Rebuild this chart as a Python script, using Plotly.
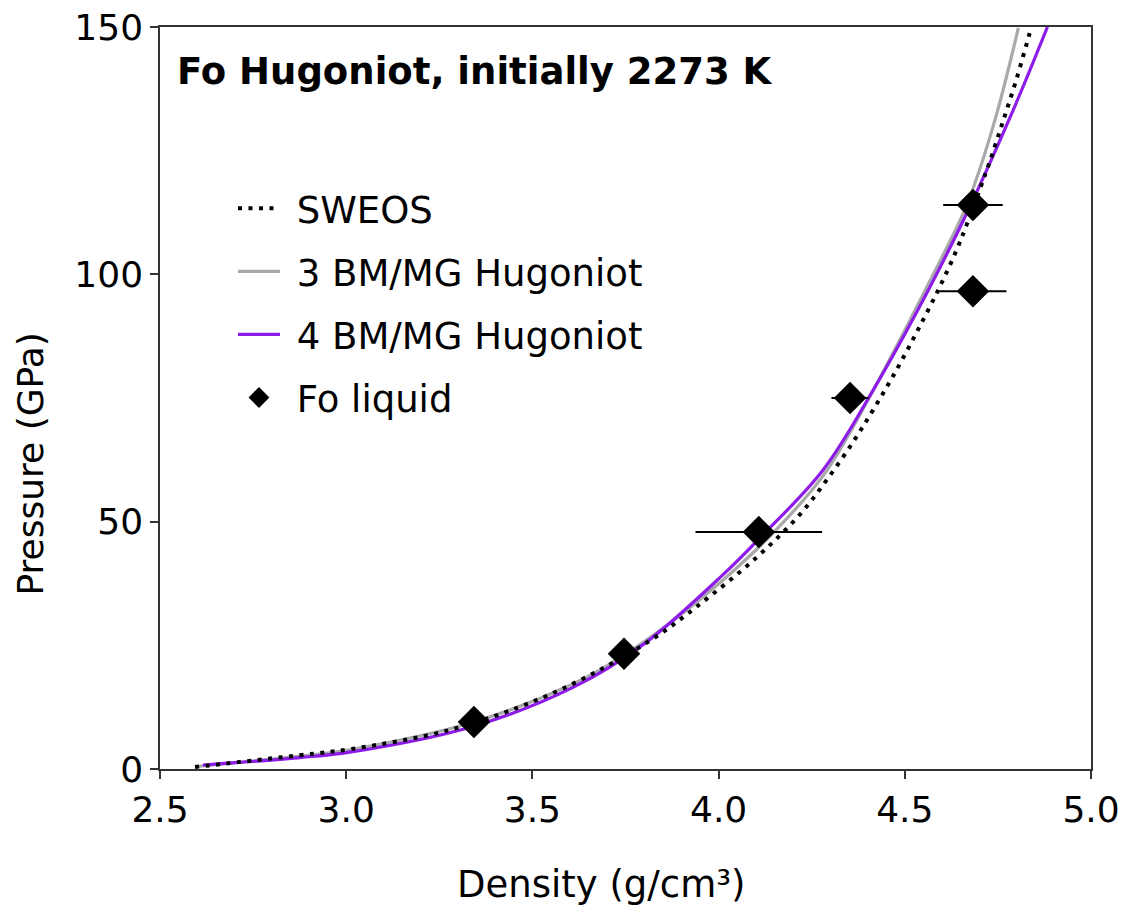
import plotly.graph_objects as go

# ---------------- data ----------------
sweos_density = [2.594, 2.876, 3.010, 3.279, 3.520, 3.700, 3.843, 3.941, 4.098, 4.219,
                 4.290, 4.362, 4.415, 4.469, 4.532, 4.594, 4.639, 4.666, 4.702, 4.729,
                 4.764, 4.800, 4.834, 4.840]
sweos_pressure = [0.4, 2.8, 4.0, 7.9, 14.2, 20.8, 27.3, 32.8, 42.5, 51.5,
                  58.4, 66.2, 72.6, 79.5, 88.3, 97.5, 104.9, 110.0, 117.3, 123.0,
                  131.0, 139.5, 148.4, 150.0]

bm3_density = [2.597, 2.876, 3.010, 3.343, 3.609, 3.746, 3.878, 4.012, 4.146, 4.280,
               4.404, 4.555, 4.652, 4.684, 4.747, 4.805]
bm3_pressure = [0.5, 2.6, 3.9, 9.5, 17.2, 23.0, 30.0, 38.2, 47.7, 59.2,
                75.0, 96.8, 111.5, 117.5, 132.5, 149.8]

bm4_density = [2.615, 2.876, 3.010, 3.340, 3.609, 3.800, 4.012, 4.108, 4.280, 4.415,
               4.563, 4.666, 4.791, 4.883]
bm4_pressure = [0.8, 2.3, 3.4, 8.6, 16.5, 25.3, 39.3, 46.5, 60.4, 76.6,
                96.8, 112.3, 133.2, 150.0]

fo_density = [3.343, 3.746, 4.108, 4.353, 4.683, 4.683]
fo_pressure = [9.5, 23.3, 47.9, 75.0, 114.0, 96.6]
fo_density_err = [0.0, 0.0, 0.17, 0.05, 0.08, 0.09]

x_ticks = [2.5, 3.0, 3.5, 4.0, 4.5, 5.0]
y_ticks = [0, 50, 100, 150]

FONT = "DejaVu Sans"
PURPLE = "#8E1CE8"
GRAY = "#A9A9A9"
PAD = "\u00a0"  # small gap between legend symbol and label

fig = go.Figure()

fig.add_trace(go.Scatter(
    x=bm3_density, y=bm3_pressure, mode="lines", name=PAD + "3 BM/MG Hugoniot",
    line=dict(color=GRAY, width=3.2, shape="spline", smoothing=1.0),
    legendgroup="b", legendrank=2))
fig.add_trace(go.Scatter(
    x=bm4_density, y=bm4_pressure, mode="lines", name=PAD + "4 BM/MG Hugoniot",
    line=dict(color=PURPLE, width=3.2, shape="spline", smoothing=1.0),
    legendgroup="c", legendrank=3))
fig.add_trace(go.Scatter(
    x=sweos_density, y=sweos_pressure, mode="lines", name=PAD + "SWEOS",
    line=dict(color="black", width=4, dash="4px,6.5px", shape="spline", smoothing=1.0),
    legendgroup="a", legendrank=1))
fig.add_trace(go.Scatter(
    x=fo_density, y=fo_pressure, mode="markers", name=PAD + "Fo liquid",
    marker=dict(symbol="diamond", size=25, color="black"),
    error_x=dict(type="data", array=fo_density_err, visible=True,
                 color="black", thickness=2, width=0),
    legendgroup="d", legendrank=4))

fig.add_annotation(
    text="<b>Fo Hugoniot, initially 2273 K</b>", xref="paper", yref="paper",
    x=0.016, y=0.94, xanchor="left", yanchor="middle", showarrow=False,
    font=dict(family=FONT, size=37, color="black"))

fig.add_annotation(
    text="Pressure (GPa)", xref="paper", yref="paper", textangle=-90,
    x=-0.1386, y=0.4117, xanchor="center", yanchor="middle", showarrow=False,
    font=dict(family=FONT, size=36, color="black"))
fig.add_annotation(
    text="Density (g/cm³)", xref="paper", yref="paper",
    x=0.4737, y=-0.156, xanchor="center", yanchor="middle", showarrow=False,
    font=dict(family=FONT, size=37, color="black"))

fig.update_layout(
    width=1128, height=913,
    margin=dict(l=160, r=37, t=27, b=144, autoexpand=False),
    paper_bgcolor="white", plot_bgcolor="white",
    font=dict(family=FONT, color="black"),
    showlegend=True,
    legend=dict(
        x=0.0784, y=0.797, xanchor="left", yanchor="top",
        bgcolor="rgba(0,0,0,0)", traceorder="grouped", tracegroupgap=12,
        itemwidth=42, font=dict(family=FONT, size=37, color="black")),
    xaxis=dict(
        range=[2.5, 5.0], tickvals=x_ticks, ticktext=[f"{v:.1f}" for v in x_ticks],
        ticks="outside", ticklen=8, tickwidth=1.5, tickcolor="#333",
        showline=True, linecolor="#333", linewidth=1.5, mirror=True,
        showgrid=False, zeroline=False, automargin=False,
        tickfont=dict(family=FONT, size=36, color="black")),
    yaxis=dict(
        range=[0, 150], tickvals=y_ticks,
        ticks="outside", ticklen=8, tickwidth=1.5, tickcolor="#333",
        showline=True, linecolor="#333", linewidth=1.5, mirror=True,
        showgrid=False, zeroline=False, automargin=False,
        tickfont=dict(family=FONT, size=36, color="black")),
)

fig.write_html("out.html")
